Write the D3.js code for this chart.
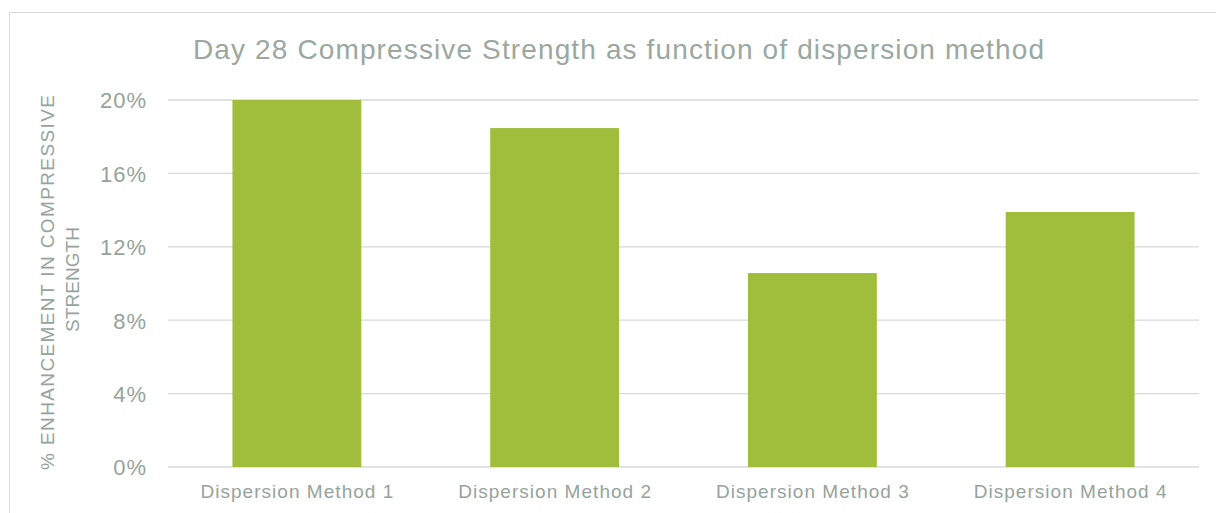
<!DOCTYPE html>
<html><head><meta charset="utf-8">
<script src="https://cdn.jsdelivr.net/npm/d3@7"></script>
<style>body{margin:0;background:#fff;} svg{display:block;font-family:"Liberation Sans",Arial,sans-serif;}</style>
</head><body>
<svg id="c" width="1216" height="513"></svg>
<script>
const categories = ["Dispersion Method 1","Dispersion Method 2","Dispersion Method 3","Dispersion Method 4"];
const values = [0.200, 0.1847, 0.1057, 0.139];
const yTicks = [0, 0.04, 0.08, 0.12, 0.16, 0.20];
const title = "Day 28 Compressive Strength as function of dispersion method";
const yLabelLines = ["% ENHANCEMENT IN COMPRESSIVE", "STRENGTH"];

(function(){
const svg = d3.select("#c");
const textColor = "#95a39c";
svg.append("path").attr("d","M9.5,513 V12.5 H1216").attr("fill","none").attr("stroke","#d9d9d9").attr("stroke-width",1);

const pL = 168, pR = 1199, pT = 100, pB = 467;
const x = d3.scaleBand().domain(categories).range([pL,pR]).paddingInner(0.5).paddingOuter(0.25);
const y = d3.scaleLinear().domain([0,0.20]).range([pB,pT]);

svg.append("g").selectAll("line").data(yTicks).join("line")
  .attr("x1",pL).attr("x2",pR).attr("y1",d=>y(d)).attr("y2",d=>y(d))
  .attr("stroke","#d9d9d9").attr("stroke-width",1.3);

svg.append("g").selectAll("rect").data(values).join("rect")
  .attr("x",(d,i)=>x(categories[i])).attr("width",x.bandwidth())
  .attr("y",d=>y(d)).attr("height",d=>pB-y(d))
  .attr("fill","#a1bd3c");

const yAxis = d3.axisLeft(y).tickValues(yTicks).tickFormat(d3.format(".0%")).tickSize(0).tickPadding(21);
const gy = svg.append("g").attr("transform",`translate(${pL},0)`).call(yAxis);
gy.select(".domain").remove();
gy.attr("font-family",null).attr("font-size",null);
gy.selectAll("text").attr("fill",textColor).style("font-size","22px").style("letter-spacing","1px").attr("dy","0.36em");

const xAxis = d3.axisBottom(x).tickSize(0);
const gx = svg.append("g").attr("transform",`translate(0,${pB})`).call(xAxis);
gx.select(".domain").remove();
gx.attr("font-family",null).attr("font-size",null);
gx.selectAll("text").attr("fill",textColor).style("font-size","19px")
  .attr("y",31).attr("dy","0").attr("textLength",193).attr("lengthAdjust","spacing");

svg.append("text").attr("x",618.5).attr("y",58.5).attr("text-anchor","middle")
  .attr("fill","#9aa8a1").style("font-size","28px")
  .attr("textLength",851).attr("lengthAdjust","spacing").text(title);

const yl = svg.append("g").attr("fill",textColor).style("font-size","19px");
const lineCfg = [{c:282.5, b:54, len:375},{c:279.5, b:79, len:105}];
yLabelLines.forEach((t,i)=>{
  yl.append("text").attr("transform",`translate(${lineCfg[i].b},${lineCfg[i].c}) rotate(-90)`)
    .attr("text-anchor","middle").attr("textLength",lineCfg[i].len).attr("lengthAdjust","spacing").text(t);
});
})();
</script>
</body></html>
